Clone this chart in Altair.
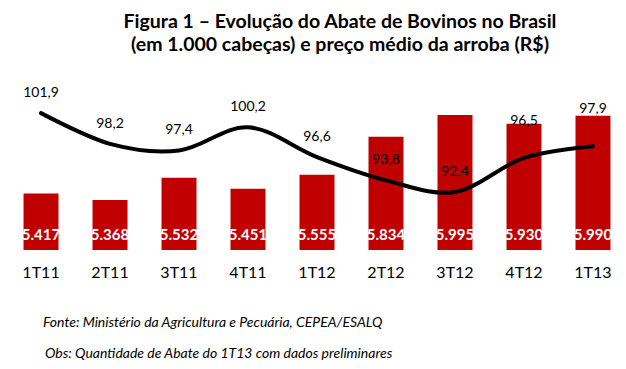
import altair as alt
import pandas as pd

cats = ["1T11", "2T11", "3T11", "4T11", "1T12", "2T12", "3T12", "4T12", "1T13"]
abate = [5417, 5368, 5532, 5451, 5555, 5834, 5995, 5930, 5990]
preco = [101.9, 98.2, 97.4, 100.2, 96.6, 93.8, 92.4, 96.5, 97.9]
title_lines = ["Figura 1 – Evolução do Abate de Bovinos no Brasil",
               "(em 1.000 cabeças) e preço médio da arroba (R$)"]
nota_fonte = "Fonte: Ministério da Agricultura e Pecuária, CEPEA/ESALQ"
nota_obs = "Obs: Quantidade de Abate do 1T13 com dados preliminares"

df = pd.DataFrame({"cat": cats, "abate": abate, "preco": preco})
df["abate_lbl"] = [f"{v:,}".replace(",", ".") for v in abate]
df["preco_lbl"] = [f"{v:.1f}".replace(".", ",") for v in preco]

FONT = "Lato"
W, H = 600, 180
RED = "#C00000"

x = alt.X("cat:N", sort=cats,
          scale=alt.Scale(range=[0, 618], paddingInner=0.493, paddingOuter=0.225),
          axis=alt.Axis(title=None, labelAngle=0, domain=False, ticks=False, grid=False,
                        labelFontSize=16, labelFont=FONT, labelColor="black",
                        labelPadding=14))

base = alt.Chart(df)

ybar_scale = alt.Scale(domain=[5000, 6327], zero=False, nice=False)
ybar = alt.Y("abate:Q", scale=ybar_scale, axis=None)
bars = base.mark_bar(color=RED).encode(x=x, y=ybar, y2=alt.datum(5000))
bar_text = base.mark_text(color="white", fontWeight="bold", fontSize=15, font=FONT,
                          dy=-15, baseline="middle").encode(
    x=x, y=alt.Y(datum=5000, scale=ybar_scale, axis=None),
    text="abate_lbl:N")

yl = alt.Y("preco:Q", scale=alt.Scale(domain=[85.4, 107.1], zero=False, nice=False), axis=None)
line = base.mark_line(color="black", strokeWidth=4, interpolate="cardinal",
                      strokeCap="round").encode(x=x, y=yl)
last_two = alt.FieldOneOfPredicate(field="cat", oneOf=cats[7:])
lbl1 = base.transform_filter({"not": {"field": "cat", "oneOf": cats[7:]}}).mark_text(
    fontSize=14, font=FONT, color="black", dy=-20, baseline="middle").encode(x=x, y=yl, text="preco_lbl:N")
lbl2 = base.transform_filter(last_two).mark_text(
    fontSize=14, font=FONT, color="black", dy=-37, baseline="middle").encode(x=x, y=yl, text="preco_lbl:N")

notes = alt.Chart(pd.DataFrame({"t": [nota_fonte]})).mark_text(
    align="left", baseline="middle", fontStyle="italic", fontSize=14, font=FONT, color="black").encode(
    x=alt.value(35), y=alt.value(253), text="t:N")
notes2 = alt.Chart(pd.DataFrame({"t": [nota_obs]})).mark_text(
    align="left", baseline="middle", fontStyle="italic", fontSize=14, font=FONT, color="black").encode(
    x=alt.value(37), y=alt.value(284), text="t:N")

chart = alt.layer(
    alt.layer(bars, bar_text),
    alt.layer(line, lbl1, lbl2),
    notes, notes2,
).resolve_scale(y="independent").properties(
    width=W, height=H,
    background="white",
    autosize=alt.AutoSizeParams(type="none"),
    padding={"left": 0, "top": 62, "right": 10, "bottom": 110},
    title=alt.TitleParams(text=title_lines, fontSize=19.5, font=FONT, fontWeight="bold",
                          anchor="middle", dx=32, offset=15, lineHeight=23, color="black"),
).configure_view(stroke=None)

chart.save("out.html", embed_options={"renderer": "svg", "actions": False})
